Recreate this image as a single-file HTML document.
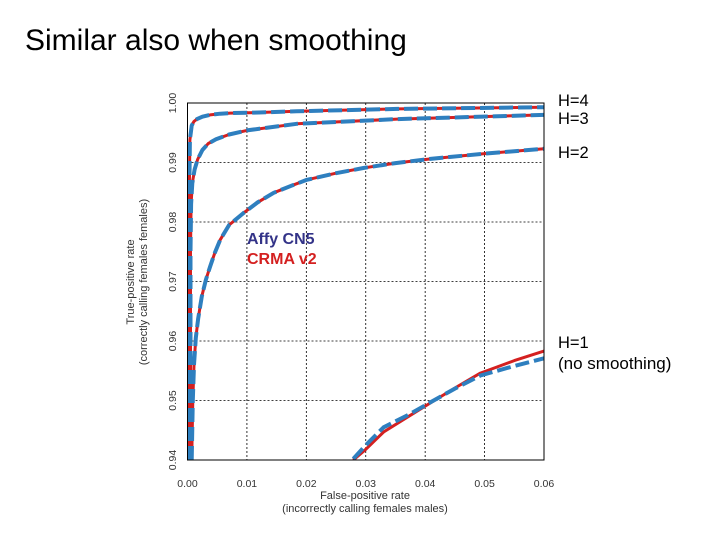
<!DOCTYPE html>
<html><head><meta charset="utf-8"><style>
body{margin:0;background:#fff;font-family:"Liberation Sans",sans-serif}
svg text{font-family:"Liberation Sans",sans-serif}
</style></head><body>
<svg width="720" height="540">
<text x="25" y="50" font-size="30" fill="#000">Similar also when smoothing</text>
<g id="grid"></g>
<g id="curves"></g>
<rect x="187.5" y="103" width="356.5" height="357" fill="none" stroke="#000" stroke-width="1"/>
<g id="axes" font-size="10.5" fill="#333"></g>
<text x="365" y="499" font-size="11" text-anchor="middle" fill="#333">False-positive rate</text>
<text x="365" y="512" font-size="11" text-anchor="middle" fill="#333">(incorrectly calling females males)</text>
<text transform="translate(134,282) rotate(-90)" font-size="11" text-anchor="middle" fill="#333">True-positive rate</text>
<text transform="translate(147,282) rotate(-90)" font-size="11" text-anchor="middle" fill="#333">(correctly calling females females)</text>
<text x="247" y="244" font-size="16" font-weight="bold" fill="#333388">Affy CN5</text>
<text x="247" y="264" font-size="16" font-weight="bold" fill="#d42020">CRMA v2</text>
<g font-size="16.5" fill="#000">
<text x="558" y="106">H=4</text>
<text x="558" y="124">H=3</text>
<text x="558" y="158">H=2</text>
<text x="558" y="348">H=1</text>
<text x="558" y="369" font-size="17">(no smoothing)</text>
</g>
</svg>
<script>
const xTicks=[0,0.01,0.02,0.03,0.04,0.05,0.06];
const xTickLabels=["0.00","0.01","0.02","0.03","0.04","0.05","0.06"];
const yTicks=[0.94,0.95,0.96,0.97,0.98,0.99,1.00];
const yTickLabels=["0.94","0.95","0.96","0.97","0.98","0.99","1.00"];
const h4X=[0.0003,0.0003,0.0004,0.0007,0.0011,0.0016,0.0025,0.0038,0.0055,0.0072,0.012,0.0184,0.0353,0.06];
const h4Y=[0.940,0.985,0.9938,0.9962,0.9969,0.9973,0.9977,0.998,0.9982,0.9983,0.9984,0.9986,0.999,0.9993];
const h3X=[0.0005,0.0005,0.0006,0.0008,0.0012,0.0017,0.0025,0.0035,0.0048,0.007,0.01,0.0184,0.0353,0.06];
const h3Y=[0.940,0.975,0.983,0.9865,0.9888,0.9905,0.9921,0.9932,0.9939,0.9947,0.9954,0.9965,0.9973,0.998];
const h2X=[0.0007,0.0009,0.0011,0.0014,0.0018,0.0024,0.0031,0.0038,0.0046,0.0055,0.007,0.0094,0.0118,0.0145,0.0175,0.0201,0.025,0.0297,0.035,0.0409,0.05,0.06];
const h2Y=[0.940,0.950,0.956,0.9605,0.9638,0.9675,0.9703,0.9725,0.9748,0.977,0.9795,0.9815,0.9833,0.9849,0.9861,0.9871,0.9882,0.9891,0.9899,0.9906,0.9915,0.9923];
const h1X=[0.0279,0.030,0.033,0.037,0.0409,0.045,0.0493,0.055,0.06];
const h1RedY=[0.940,0.9418,0.9447,0.9472,0.9496,0.9521,0.9546,0.9567,0.9583];
const h1BlueY=[0.9402,0.9425,0.9455,0.9475,0.9497,0.952,0.9542,0.9558,0.9571];
const X0=187.5,X1=544,Y0=460,Y1=103;
const sx=v=>X0+(v-0)/0.06*(X1-X0);
const sy=v=>Y0-(v-0.94)/0.06*(Y0-Y1);
const NS="http://www.w3.org/2000/svg";
const grid=document.getElementById('grid'),axes=document.getElementById('axes'),cv=document.getElementById('curves');
function mk(t,a,p){const e=document.createElementNS(NS,t);for(const k in a)e.setAttribute(k,a[k]);p.appendChild(e);return e;}
xTicks.forEach((t,i)=>{
 const l=mk('line',{x1:sx(t),x2:sx(t),y1:Y1,y2:Y0,stroke:'#000','stroke-dasharray':'2 2','stroke-width':0.8},grid);
 
 
 const tx=mk('text',{x:sx(t),y:487,'text-anchor':'middle'},axes);tx.textContent=xTickLabels[i];
 
 
});
yTicks.forEach((t,i)=>{
 const l=mk('line',{x1:X0,x2:X1,y1:sy(t),y2:sy(t),stroke:'#000','stroke-dasharray':'2 2','stroke-width':0.8},grid);
 
 
 const tx=mk('text',{transform:`translate(176,${sy(t)}) rotate(-90)`,'text-anchor':'middle'},axes);tx.textContent=yTickLabels[i];
 
 
});
function path(xs,ys){return xs.map((x,i)=>(i?'L':'M')+sx(x).toFixed(1)+','+sy(ys[i]).toFixed(1)).join(' ');}
const series=[['h4',h4X,h4Y,h4Y],['h3',h3X,h3Y,h3Y],['h2',h2X,h2Y,h2Y],['h1',h1X,h1RedY,h1BlueY]];
const clip=mk('clipPath',{id:'c'},cv);mk('rect',{x:X0,y:Y1,width:X1-X0,height:Y0-Y1},clip);
series.forEach(s=>{
 const r=mk('path',{d:path(s[1],s[2]),fill:'none',stroke:'#d42020','stroke-width':3,'clip-path':'url(#c)','stroke-linejoin':'round'},cv);
 
 
 const b=mk('path',{d:path(s[1],s[3]),fill:'none',stroke:'#2e7fbf','stroke-width':4,'stroke-dasharray':'14 5','clip-path':'url(#c)','stroke-linejoin':'round'},cv);
 
 
});
</script>
</body></html>
